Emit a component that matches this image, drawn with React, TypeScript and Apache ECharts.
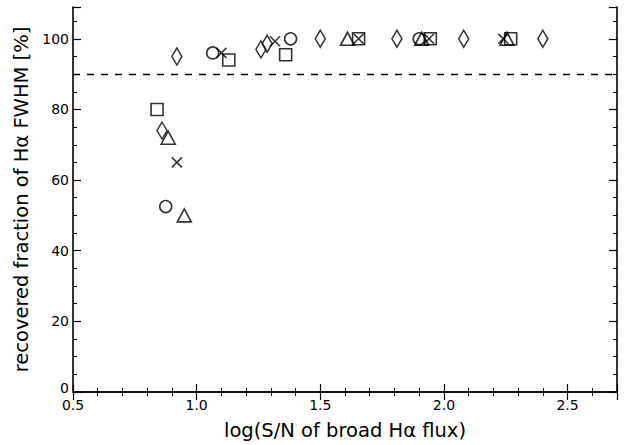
import React, { useEffect, useRef } from "react";
import * as echarts from "echarts";

const squares: [number, number][] = [[0.84, 80], [1.13, 94], [1.36, 95.5], [1.655, 100], [1.945, 100], [2.27, 100]];
const diamonds: [number, number][] = [[0.86, 74], [0.92, 95], [1.26, 97], [1.285, 98.6], [1.5, 100], [1.81, 100], [2.08, 100], [2.4, 100]];
const triangles: [number, number][] = [[0.885, 72], [0.95, 50], [1.61, 100], [1.91, 100], [2.255, 100]];
const circles: [number, number][] = [[0.875, 52.5], [1.065, 96], [1.38, 100], [1.9, 100]];
const crosses: [number, number][] = [[0.92, 65], [1.1, 96], [1.317, 99.3], [1.655, 100], [1.94, 100], [2.24, 100]];
const threshold = 90;

const xMin = 0.5, xMax = 2.7, yMin = 0, yMax = 109;

export default function App() {
  const ref = useRef<HTMLDivElement>(null);
  useEffect(() => {
    const chart = echarts.init(ref.current!, null, { renderer: "svg" });
    const font = "DejaVu Sans";
    const markerStyle = { color: "rgba(0,0,0,0)", borderColor: "#000", borderWidth: 1.6 };
    const mk = (name: string, data: [number, number][], symbol: string, size: any) => ({
      name, type: "scatter", data, symbol, symbolSize: size, itemStyle: markerStyle, z: 5,
    });
    const axisCommon = {
      axisLine: { show: true, lineStyle: { color: "#000", width: 1.6 } },
      axisTick: { show: true, inside: true, length: 8, lineStyle: { color: "#000", width: 1.2 } },
      minorTick: { show: true, splitNumber: 5, length: 4, lineStyle: { color: "#000", width: 1 } },
      splitLine: { show: false },
    };
    chart.setOption({
      animation: false,
      backgroundColor: "#fff",
      grid: { left: 73, right: 7, top: 7, bottom: 50, containLabel: false },
      xAxis: [
        {
          type: "value", min: xMin, max: xMax, interval: 0.5, position: "bottom",
          ...axisCommon,
          minorTick: { ...axisCommon.minorTick, splitNumber: 5 },
          axisLabel: {
            color: "#000", fontFamily: font, fontSize: 14, margin: 6,
            formatter: (v: number) => (v <= 2.5 + 1e-9 ? v.toFixed(1) : ""),
          },
          name: "log(S/N of broad Hα flux)", nameLocation: "middle", nameGap: 28,
          nameTextStyle: { color: "#000", fontFamily: font, fontSize: 19.5 },
        },
        {
          type: "value", min: xMin, max: xMax, interval: 0.5, position: "top",
          ...axisCommon, axisLabel: { show: false },
        },
      ],
      yAxis: [
        {
          type: "value", min: yMin, max: yMax, interval: 20, position: "left",
          ...axisCommon,
          minorTick: { ...axisCommon.minorTick, splitNumber: 4 },
          axisLabel: {
            color: "#000", fontFamily: font, fontSize: 14, margin: 4,
            formatter: (v: number) => (v === 0 ? "{z|0}" : v <= 100 ? String(v) : ""),
            rich: { z: { fontFamily: font, fontSize: 14, color: "#000", padding: [0, 0, 8, 0] } },
          },
          name: "recovered fraction of Hα FWHM [%]", nameLocation: "middle", nameGap: 31,
          nameTextStyle: { color: "#000", fontFamily: font, fontSize: 19.5 },
        },
        {
          type: "value", min: yMin, max: yMax, interval: 20, position: "right",
          ...axisCommon,
          minorTick: { ...axisCommon.minorTick, splitNumber: 4 },
          axisLabel: { show: false },
        },
      ],
      series: [
        {
          ...mk("squares", squares, "rect", 12),
          markLine: {
            silent: true, symbol: "none", label: { show: false },
            lineStyle: { color: "#000", type: [7, 7], width: 1.3 },
            data: [{ yAxis: threshold }],
          },
        },
        mk("diamonds", diamonds, "diamond", [10, 17]),
        mk("triangles", triangles, "triangle", [14, 13]),
        mk("circles", circles, "circle", 12),
        mk("crosses", crosses, "path://M0,0L10,10M10,0L0,10", 10),
      ],
    });
    return () => chart.dispose();
  }, []);
  return <div ref={ref} style={{ position: "fixed", left: 0, top: 0, width: 624, height: 445 }} />;
}
